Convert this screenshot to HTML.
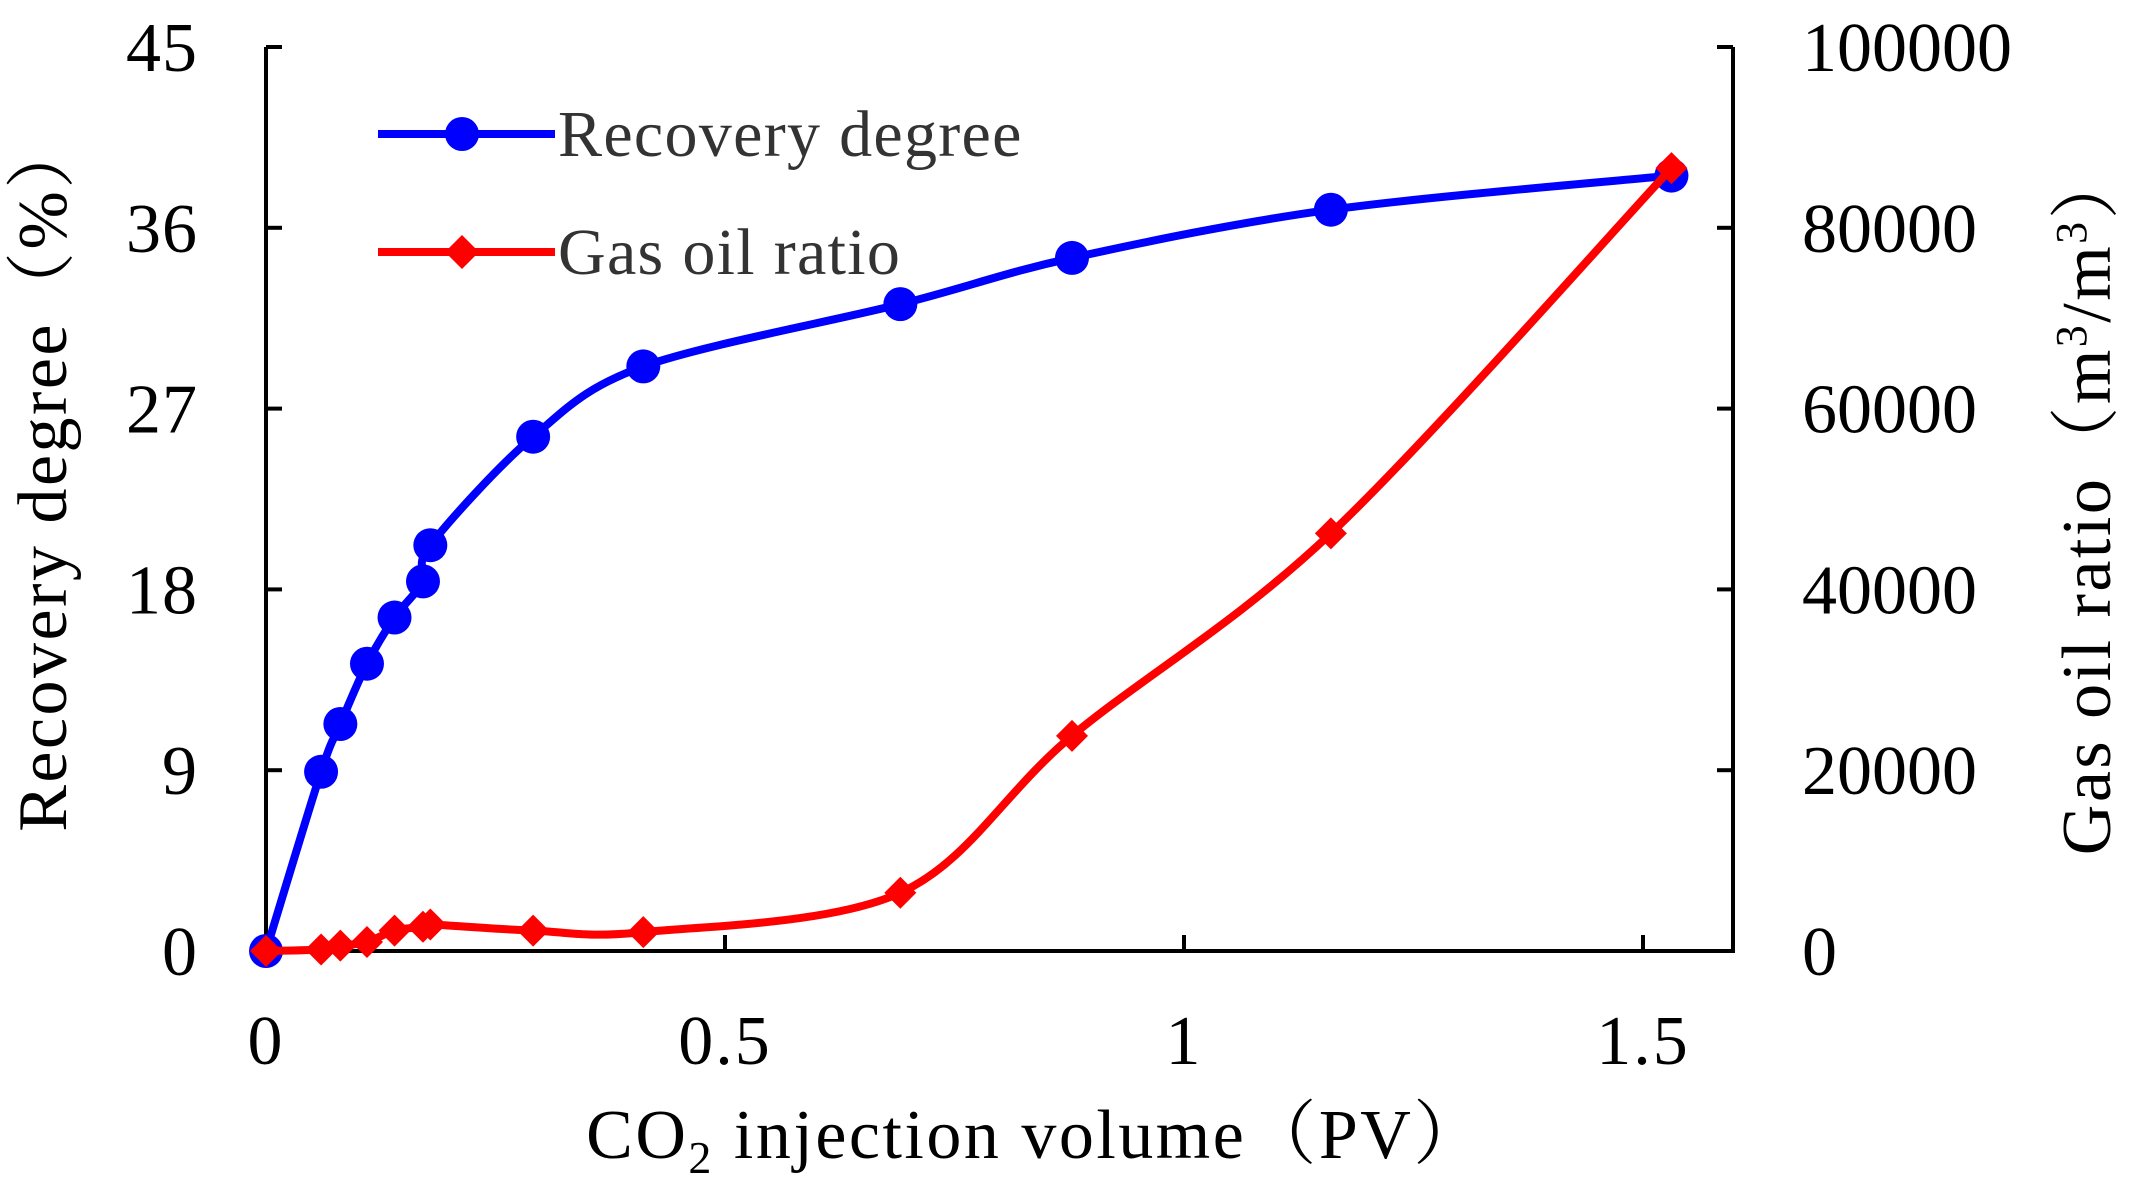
<!DOCTYPE html>
<html><head><meta charset="utf-8"><style>
html,body{margin:0;padding:0;background:#fff;}
svg{display:block;font-family:"Liberation Serif","Noto Serif CJK SC",serif;}
</style></head><body>
<svg id="chart" width="2131" height="1186" viewBox="0 0 2131 1186">
<g id="axes"></g>
<g id="series"></g>
<g id="legend">
  <line x1="378" y1="134" x2="555" y2="134" stroke="#0000ff" stroke-width="8"/>
  <circle cx="462" cy="134" r="17" fill="#0000ff"/>
  <text x="558" y="156" font-size="66" letter-spacing="1.3" fill="#333">Recovery degree</text>
  <line x1="378" y1="252" x2="555" y2="252" stroke="#ff0000" stroke-width="8"/>
  <polygon points="462,235 479,252 462,269 445,252" fill="#ff0000"/>
  <text x="558" y="274" font-size="66" letter-spacing="1.3" fill="#333">Gas oil ratio</text>
</g>
<text x="1036" y="1158" font-size="70" letter-spacing="2.5" text-anchor="middle">CO<tspan font-size="46" dy="15">2</tspan><tspan dy="-15"> injection volume（PV）</tspan></text>
<text transform="translate(66,474) rotate(-90)" font-size="70" letter-spacing="2.5" text-anchor="middle">Recovery degree（%）</text>
<text transform="translate(2110,501) rotate(-90)" font-size="70" letter-spacing="2.5" text-anchor="middle">Gas oil ratio（m<tspan font-size="44" dy="-24">3</tspan><tspan dy="24">/m</tspan><tspan font-size="44" dy="-24">3</tspan><tspan dy="24">）</tspan></text>
</svg>
<script>
const pv = [0, 0.060, 0.081, 0.110, 0.140, 0.171, 0.179, 0.291, 0.411, 0.691, 0.878, 1.160, 1.531];
const recovery = [0, 8.92, 11.3, 14.3, 16.6, 18.4, 20.2, 25.6, 29.1, 32.2, 34.5, 36.9, 38.6];
const gor = [0, 170, 590, 1000, 2260, 2680, 2930, 2260, 2090, 6440, 23800, 46200, 86600];
const xTicks = [0, 0.5, 1, 1.5];
const xTickLabels = ["0", "0.5", "1", "1.5"];
const yLeftTicks = [0, 9, 18, 27, 36, 45];
const yRightTicks = [0, 20000, 40000, 60000, 80000, 100000];

const NS = "http://www.w3.org/2000/svg";
const X0 = 266, XR = 1733, Y0 = 951, YT = 47, PXPV = 918;
const xS = v => X0 + v * PXPV;
const yL = v => Y0 - v / 45 * (Y0 - YT);
const yR = v => Y0 - v / 100000 * (Y0 - YT);
function mk(tag, attrs, parent){ const e = document.createElementNS(NS, tag); for (const k in attrs) e.setAttribute(k, attrs[k]); parent.appendChild(e); return e; }
const axes = document.getElementById('axes');
const series = document.getElementById('series');

let el = mk('path', {d:`M${X0},${YT} L${X0},${Y0} L${XR},${Y0} L${XR},${YT}`, fill:'none', stroke:'#000', 'stroke-width':4}, axes);



xTicks.forEach((t, i) => {
  const x = xS(t);
  const l = mk('line', {x1:x, y1:Y0, x2:x, y2:Y0-16, stroke:'#000', 'stroke-width':4}, axes);
  
  
  const tx = mk('text', {x:x, y:1064, 'font-size':70, 'letter-spacing':2, 'text-anchor':'middle'}, axes);
  tx.textContent = xTickLabels[i];
  
  
});
yLeftTicks.forEach(t => {
  const y = yL(t);
  const l = mk('line', {x1:X0, y1:y, x2:X0+16, y2:y, stroke:'#000', 'stroke-width':4}, axes);
  
  
  const tx = mk('text', {x:198, y:y+24, 'font-size':70, 'letter-spacing':1, 'text-anchor':'end'}, axes);
  tx.textContent = String(t);
  
  
});
yRightTicks.forEach(t => {
  const y = yR(t);
  const l = mk('line', {x1:XR, y1:y, x2:XR-16, y2:y, stroke:'#000', 'stroke-width':4}, axes);
  
  
  const tx = mk('text', {x:1802, y:y+24, 'font-size':70, 'letter-spacing':0, 'text-anchor':'start'}, axes);
  tx.textContent = String(t);
  
  
});

function smooth(pts){
  let d = `M${pts[0][0]},${pts[0][1]}`;
  for (let i = 0; i < pts.length - 1; i++){
    const p0 = pts[Math.max(0,i-1)], p1 = pts[i], p2 = pts[i+1], p3 = pts[Math.min(pts.length-1,i+2)];
    const t = 0.16;
    const c1 = [p1[0] + (p2[0]-p0[0])*t, p1[1] + (p2[1]-p0[1])*t];
    const c2 = [p2[0] - (p3[0]-p1[0])*t, p2[1] - (p3[1]-p1[1])*t];
    d += ` C${c1[0]},${c1[1]} ${c2[0]},${c2[1]} ${p2[0]},${p2[1]}`;
  }
  return d;
}
const recPts = pv.map((v,i) => [xS(v), yL(recovery[i])]);
const gorPts = pv.map((v,i) => [xS(v), yR(gor[i])]);

el = mk('path', {d:smooth(recPts), fill:'none', stroke:'#0000ff', 'stroke-width':8}, series);


recPts.forEach(p => {
  const c = mk('circle', {cx:p[0], cy:p[1], r:17, fill:'#0000ff'}, series);
  
  
});
el = mk('path', {d:smooth(gorPts), fill:'none', stroke:'#ff0000', 'stroke-width':8}, series);


gorPts.forEach(p => {
  const s = 16;
  const m = mk('polygon', {points:`${p[0]},${p[1]-s} ${p[0]+s},${p[1]} ${p[0]},${p[1]+s} ${p[0]-s},${p[1]}`, fill:'#ff0000'}, series);
  
  
});
</script>
</body></html>
